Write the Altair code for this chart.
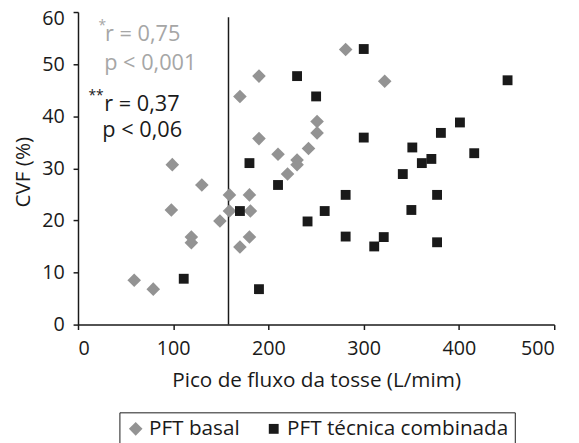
import altair as alt
import pandas as pd

series_names = ["PFT basal", "PFT técnica combinada"]

basal_x = [59, 79, 99, 98, 119, 119, 130, 149, 159, 159, 170, 170, 180, 181, 180,
           190, 190, 210, 220, 230, 230, 242, 251, 251, 281, 322]
basal_y = [8.5, 6.8, 30.7, 22.0, 16.8, 15.7, 26.8, 19.9, 24.9, 21.8, 43.8, 14.9, 24.9, 21.8, 16.8,
           47.7, 35.7, 32.7, 28.9, 31.6, 30.7, 33.8, 39.0, 36.8, 52.8, 46.7]

comb_x = [111, 170, 180, 190, 210, 230, 241, 250, 259, 281, 281, 300, 300, 311, 321,
          341, 351, 350, 361, 371, 377, 377, 381, 401, 416, 451]
comb_y = [8.8, 21.8, 31.0, 6.8, 26.8, 47.7, 19.8, 43.8, 21.8, 24.9, 16.9, 52.9, 35.9, 15.0, 16.8,
          28.9, 34.0, 22.0, 31.0, 31.8, 24.9, 15.8, 36.8, 38.8, 32.9, 46.9]

cutoff_x = [158]
cutoff_y = [0]
cutoff_y2 = [59]

ann_text = ["*", "r = 0,75", "p < 0,001", "**", "r = 0,37", "p < 0,06"]
ann_x = [21.5, 28.4, 27.5, 11.0, 27.5, 25.5]
ann_y = [57.3, 55.8, 50.2, 43.9, 42.3, 37.3]
ann_color = ["#a6a6a6", "#a6a6a6", "#a6a6a6", "#1a1a1a", "#1a1a1a", "#1a1a1a"]
ann_size = [14, 22, 22, 14, 22, 22]

x_ticks = [0, 100, 200, 300, 400, 500]
y_ticks = [0, 10, 20, 30, 40, 50, 60]

FONT = "Open Sans"

pts = pd.DataFrame({
    "x": basal_x + comb_x,
    "y": basal_y + comb_y,
    "serie": [series_names[0]] * len(basal_x) + [series_names[1]] * len(comb_x),
})
rule_df = pd.DataFrame({"x": cutoff_x, "y": cutoff_y, "y2": cutoff_y2})
ann_df = pd.DataFrame({"t": ann_text, "x": ann_x, "y": ann_y, "c": ann_color, "s": ann_size})

xs = alt.Scale(domain=[0, 500], nice=False, zero=True)
ys = alt.Scale(domain=[0, 60], nice=False)

points = alt.Chart(pts).mark_point(filled=True, opacity=1, strokeWidth=0).encode(
    x=alt.X("x:Q", scale=xs, title="Pico de fluxo da tosse (L/mim)",
            axis=alt.Axis(values=x_ticks, labelPadding=9, titlePadding=12)),
    y=alt.Y("y:Q", scale=ys, title="CVF (%)",
            axis=alt.Axis(values=y_ticks, labelPadding=9,
                          titleX=-55, titleY=162, titleAngle=270, titleAlign="center",
                          titleBaseline="middle",
                          labelOffset={"condition": {"test": "datum.value == 60", "value": 7}, "value": 0})),
    color=alt.Color("serie:N", scale=alt.Scale(domain=series_names, range=["#939393", "#1a1a1a"]),
                    legend=alt.Legend(title=None, orient="none", legendX=42, legendY=406,
                                      direction="horizontal", strokeColor="#1a1a1a", padding=6,
                                      labelFontSize=21, labelFont=FONT, labelColor="#1a1a1a",
                                      labelLimit=0, labelOffset=3, columnPadding=24,
                                      symbolOpacity=1, symbolStrokeWidth=0)),
    shape=alt.Shape("serie:N", scale=alt.Scale(domain=series_names, range=["diamond", "square"])),
    size=alt.Size("serie:N", scale=alt.Scale(domain=series_names, range=[190, 100])),
)

rule = alt.Chart(rule_df).mark_rule(color="#1a1a1a", strokeWidth=1.5).encode(
    x="x:Q", y="y:Q", y2="y2:Q"
)

texts = alt.Chart(ann_df).mark_text(align="left", baseline="middle", font=FONT).encode(
    x="x:Q", y="y:Q", text="t:N",
    color=alt.Color("c:N", scale=None),
    size=alt.Size("s:Q", scale=None),
)

chart = alt.layer(rule, points, texts).properties(
    width=483, height=317,
    autosize=alt.AutoSizeParams(type="none"),
    padding={"left": 71, "top": 1, "right": 17, "bottom": 117},
).configure_view(stroke=None).configure_axis(
    grid=False, domainColor="#1a1a1a", domainWidth=1.5, tickColor="#1a1a1a", tickWidth=1.5,
    tickSize=5, labelFont=FONT, labelFontSize=20, labelColor="#1a1a1a",
    titleFont=FONT, titleFontSize=21, titleFontWeight="normal", titleColor="#1a1a1a",
).configure_legend(symbolOpacity=1)

chart.save("out.html", embed_options={"renderer": "svg", "actions": False})
